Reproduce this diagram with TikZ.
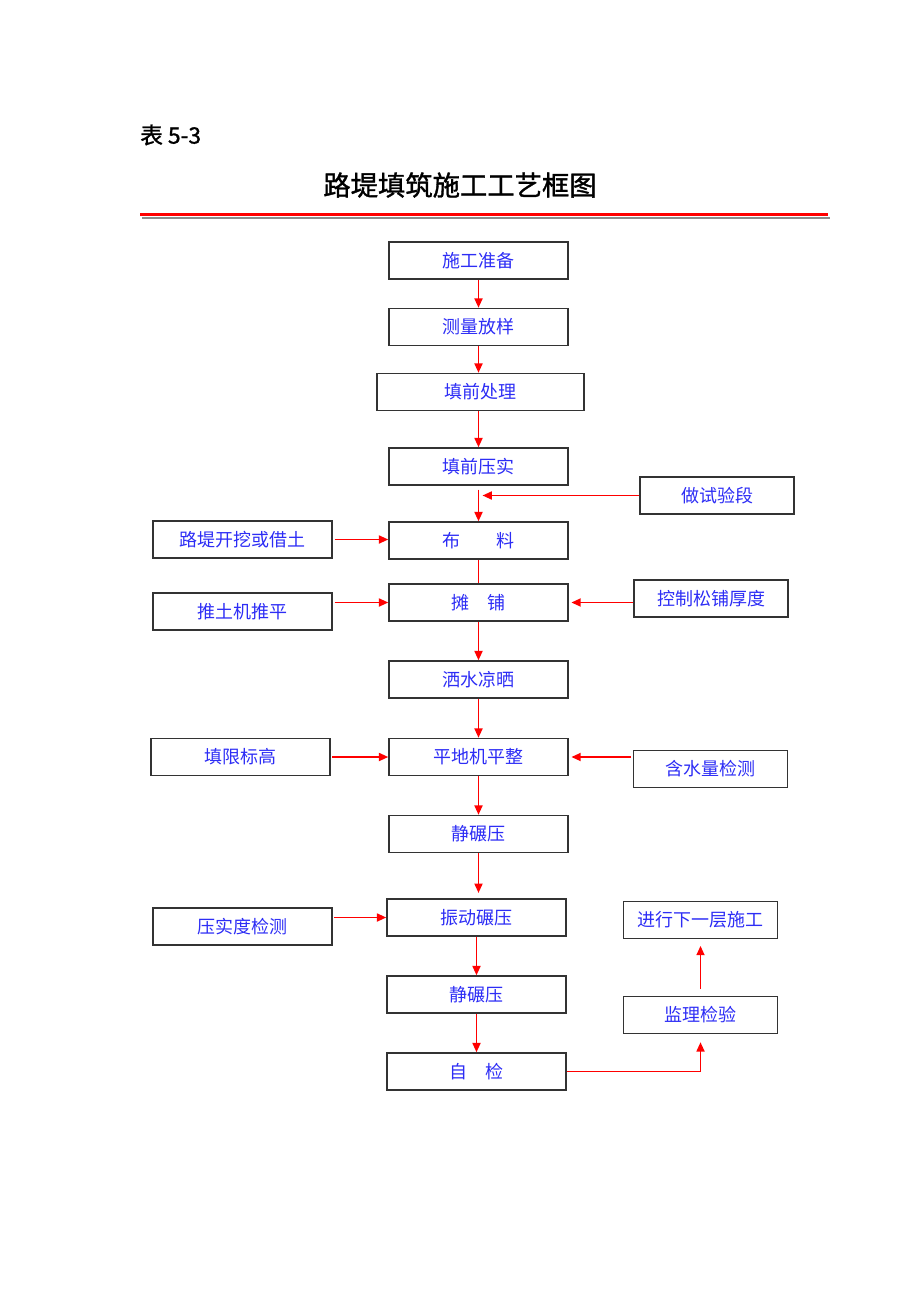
\documentclass[tikz,border=0pt]{standalone}
\usepackage{fontspec}
\usepackage{tikz}
\usetikzlibrary{arrows.meta,calc}
\newfontfamily\cjk{Noto Sans CJK SC}
\newfontfamily\cjkhead[FakeBold=1.2]{Noto Sans CJK SC}
\definecolor{textblue}{RGB}{45,45,245}
\tikzset{box/.style={
         draw=black!80,line width=1.1pt,minimum width=#1,minimum height=27.75pt,
         inner sep=0pt,font=\cjk\fontsize{13.5}{16}\selectfont,text=textblue},
         box/.default=134.25pt}
\tikzset{arr/.style={
         draw=red,line width=1.3pt,-{Triangle[length=7pt,width=6pt]}}}
\tikzset{seg/.style={draw=red,line width=1.3pt}}

\begin{document}
\begin{tikzpicture}[x=0.75pt,y=-0.75pt]
\useasboundingbox (0,0) rectangle (920,1302);

% 标题
\node (tabno) at (140,135) [anchor=west,inner sep=0pt,font=\cjkhead\fontsize{17}{19}\selectfont] {表 5-3};
\node (title) at (460,185) [inner sep=0pt,font=\cjkhead\fontsize{20.5}{22}\selectfont] {路堤填筑施工工艺框图};
\draw [black!45,line width=1.5pt] (142,218) -- (830,218);
\draw [red,line width=2.2pt] (140,214.5) -- (828,214.5);

% 主线
\node (prep)    at (478.5,260.5) [box] {施工准备};
\node (survey)  at (478.5,327)   [box] {测量放样};
\node (treat)   at (480.5,392)   [box=155.25pt] {填前处理};
\node (compact) at (478.5,466.5) [box] {填前压实};
\node (spread)  at (478.5,540.5) [box] {布\hspace{2em}料};
\node (pave)    at (478.5,602.5) [box] {摊\hspace{1em}铺};
\node (water)   at (478.5,679.5) [box] {洒水凉晒};
\node (grader)  at (478.5,757)   [box] {平地机平整};
\node (static1) at (478.5,834)   [box] {静碾压};
\node (vibro)   at (476.5,917.5) [box] {振动碾压};
\node (static2) at (476.5,994.5) [box] {静碾压};
\node (self)    at (476.5,1071.5) [box] {自\hspace{1em}检};

% 左侧
\node (excav)   at (242.5,539.5) [box] {路堤开挖或借土};
\node (dozer)   at (242.5,611.5) [box] {推土机推平};
\node (level)   at (240.5,757)   [box] {填限标高};
\node (density) at (242.5,926.5) [box] {压实度检测};

% 右侧
\node (trial)   at (717,495.5)   [box=115.5pt] {做试验段};
\node (thick)   at (711,598.5)   [box=115.5pt] {控制松铺厚度};
\node (moist)   at (710.5,769)   [box=115.5pt] {含水量检测};
\node (next)    at (700.5,920)   [box=115.5pt] {进行下一层施工};
\node (super)   at (700.5,1015)  [box=115.5pt] {监理检验};

% 连线
\draw [arr] (prep) -- (survey);
\draw [arr] (survey.south) -- (survey.south |- treat.north);
\draw [arr] (treat.south -| compact.south) -- (compact.north);
\draw [arr,shorten <=3pt] (compact) -- (spread);
\draw [arr,shorten >=3pt] (trial.west) -- (trial.west -| compact.south);
\draw [seg] (spread) -- (pave);
\draw [arr] (pave) -- (water);
\draw [arr] (water) -- (grader);
\draw [arr] (grader) -- (static1);
\draw [arr,shorten >=4pt] (static1.south) -- (static1.south |- vibro.north);
\draw [arr] (vibro) -- (static2);
\draw [arr] (static2) -- (self);

\draw [arr,shorten <=1.5pt] (excav.east) -- (excav.east -| spread.west);
\draw [arr,shorten <=1.5pt] (pave.west -| dozer.east) -- (pave.west);
\draw [arr,shorten <=1pt] (grader.west -| level.east) -- (grader.west);
\draw [arr,shorten <=1pt] (vibro.west -| density.east) -- (vibro.west);

\draw [arr,shorten >=2pt] (thick.west |- pave.east) -- (pave.east);
\draw [arr,shorten >=2pt,shorten <=1.5pt] (moist.west |- grader.east) -- (grader.east);

\draw [arr,shorten >=6pt] (self.east) -- (self.east -| super.south) -- (super.south);
\draw [arr,shorten <=5pt,shorten >=5pt] (super) -- (next);
\end{tikzpicture}
\end{document}
